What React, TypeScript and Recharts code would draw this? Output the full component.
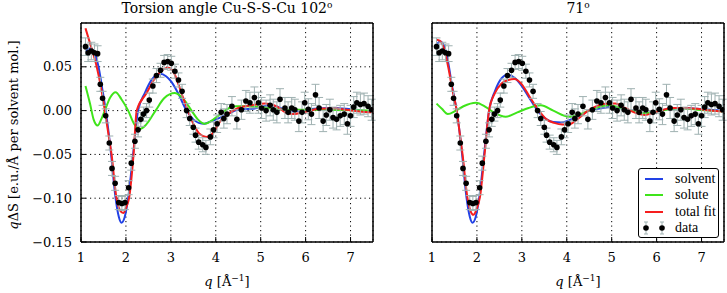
import {
  ComposedChart,
  Line,
  Scatter,
  ErrorBar,
  XAxis,
  YAxis,
  CartesianGrid,
} from "recharts";

const qTicks = [1, 2, 3, 4, 5, 6, 7];
const sTicks = [-0.15, -0.1, -0.05, 0, 0.05];

// measured q dS with error, shared by both panels: [q, value, err]
const measured = [
  [1.1, 0.073, 0.01], [1.16, 0.066, 0.01], [1.23, 0.068, 0.01], [1.3, 0.066, 0.01],
  [1.37, 0.065, 0.009], [1.43, 0.03, 0.008], [1.48, 0.014, 0.008], [1.55, -0.006, 0.008],
  [1.63, -0.037, 0.008], [1.69, -0.066, 0.008], [1.76, -0.083, 0.008], [1.84, -0.105, 0.008],
  [1.91, -0.106, 0.008], [1.98, -0.105, 0.008], [2.06, -0.088, 0.008], [2.12, -0.06, 0.008],
  [2.2, -0.035, 0.008], [2.27, -0.022, 0.008], [2.33, -0.01, 0.008], [2.39, -0.004, 0.008],
  [2.46, 0.0, 0.008], [2.52, 0.012, 0.008], [2.6, 0.028, 0.008], [2.68, 0.04, 0.008],
  [2.77, 0.046, 0.008], [2.85, 0.055, 0.008], [2.93, 0.056, 0.008], [3.01, 0.054, 0.008],
  [3.09, 0.045, 0.008], [3.17, 0.035, 0.008], [3.25, 0.022, 0.008], [3.35, 0.0, 0.008],
  [3.42, -0.009, 0.008], [3.5, -0.019, 0.008], [3.55, -0.028, 0.008], [3.62, -0.036, 0.008],
  [3.71, -0.039, 0.008], [3.78, -0.042, 0.008], [3.88, -0.03, 0.009], [3.95, -0.022, 0.009],
  [4.03, -0.015, 0.01], [4.12, -0.002, 0.01], [4.18, -0.009, 0.011], [4.25, -0.004, 0.011],
  [4.36, 0.005, 0.011], [4.47, -0.01, 0.011], [4.57, 0.001, 0.011], [4.67, 0.011, 0.012],
  [4.76, 0.009, 0.012], [4.86, 0.015, 0.012], [4.95, 0.009, 0.012], [5.02, 0.003, 0.012],
  [5.12, 0.0, 0.012], [5.21, 0.006, 0.012], [5.28, 0.001, 0.012], [5.36, -0.002, 0.012],
  [5.43, 0.013, 0.012], [5.54, 0.003, 0.012], [5.61, -0.002, 0.012], [5.69, 0.003, 0.012],
  [5.76, 0.001, 0.012], [5.85, -0.012, 0.012], [5.92, -0.002, 0.012], [5.98, 0.009, 0.012],
  [6.06, 0.0015, 0.012], [6.13, -0.004, 0.012], [6.22, 0.018, 0.012], [6.3, 0.003, 0.012],
  [6.39, -0.012, 0.012], [6.46, -0.005, 0.012], [6.54, 0.001, 0.012], [6.61, -0.008, 0.012],
  [6.69, -0.01, 0.012], [6.77, -0.006, 0.012], [6.86, -0.004, 0.012], [6.93, -0.015, 0.012],
  [7.0, -0.006, 0.012], [7.07, 0.004, 0.012], [7.14, 0.009, 0.012], [7.22, 0.007, 0.012],
  [7.3, 0.008, 0.012], [7.39, 0.005, 0.012], [7.47, 0.001, 0.012],
];

// left panel: torsion angle 102
const solvent102 = [
  [1.1, 0.067], [1.2, 0.071], [1.28, 0.068], [1.39, 0.05], [1.47, 0.026], [1.55, 0.0],
  [1.62, -0.027], [1.67, -0.05], [1.77, -0.1], [1.84, -0.121], [1.9, -0.128], [1.97, -0.122],
  [2.05, -0.1], [2.16, -0.05], [2.27, 0.0], [2.42, 0.02], [2.57, 0.035], [2.75, 0.042],
  [2.9, 0.039], [3.01, 0.033], [3.16, 0.02], [3.35, 0.0], [3.5, -0.01], [3.62, -0.014],
  [3.75, -0.015], [3.9, -0.012], [4.1, -0.008], [4.3, -0.003], [4.54, 0.0015], [4.8, 0.002],
  [5.0, 0.004], [5.21, 0.006], [5.4, 0.004], [5.65, -0.001], [5.9, 0.0], [6.2, 0.002],
  [6.54, 0.003], [6.9, 0.002], [7.2, 0.0], [7.5, -0.001],
];
const solute102 = [
  [1.1, 0.028], [1.2, 0.008], [1.28, -0.01], [1.37, -0.017], [1.45, -0.01], [1.53, 0.0],
  [1.65, 0.015], [1.77, 0.021], [1.9, 0.013], [2.05, 0.0], [2.18, -0.015], [2.31, -0.021],
  [2.45, -0.016], [2.66, 0.0], [2.85, 0.014], [3.09, 0.02], [3.3, 0.012], [3.46, 0.0],
  [3.6, -0.01], [3.75, -0.015], [3.95, -0.01], [4.1, -0.004], [4.3, 0.003], [4.45, 0.005],
  [4.7, 0.005], [5.0, 0.004], [5.3, 0.002], [5.6, 0.001], [6.0, 0.001], [6.5, 0.001],
  [7.0, 0.0005], [7.5, 0.0],
];
const total102 = [
  [1.1, 0.094], [1.2, 0.077], [1.35, 0.05], [1.45, 0.025], [1.53, 0.0], [1.62, -0.03],
  [1.68, -0.05], [1.79, -0.1], [1.87, -0.114], [1.94, -0.117], [2.01, -0.11], [2.07, -0.1],
  [2.17, -0.05], [2.24, 0.0], [2.46, 0.02], [2.62, 0.035], [2.78, 0.045], [2.94, 0.049],
  [3.05, 0.045], [3.17, 0.03], [3.27, 0.015], [3.38, 0.0], [3.5, -0.015], [3.63, -0.026],
  [3.79, -0.03], [3.95, -0.025], [4.1, -0.012], [4.27, -0.004], [4.5, 0.003], [4.8, 0.006],
  [5.1, 0.008], [5.35, 0.005], [5.55, -0.002], [5.7, -0.004], [5.95, -0.002], [6.3, 0.002],
  [6.6, 0.0026], [6.9, 0.001], [7.2, -0.001], [7.5, -0.002],
];

// right panel: torsion angle 71
const solvent71 = [
  [1.1, 0.075], [1.18, 0.079], [1.26, 0.075], [1.36, 0.055], [1.45, 0.027], [1.55, 0.0],
  [1.62, -0.027], [1.67, -0.05], [1.77, -0.1], [1.84, -0.121], [1.9, -0.128], [1.97, -0.122],
  [2.05, -0.1], [2.16, -0.05], [2.27, 0.0], [2.4, 0.022], [2.55, 0.037], [2.68, 0.041],
  [2.85, 0.037], [3.0, 0.028], [3.16, 0.015], [3.35, 0.0], [3.55, -0.01], [3.7, -0.013],
  [3.87, -0.0135], [4.05, -0.011], [4.27, -0.006], [4.5, 0.0], [4.8, 0.003], [4.95, 0.004],
  [5.2, 0.0026], [5.45, 0.0], [5.74, -0.003], [6.0, -0.001], [6.3, 0.002], [6.6, 0.003],
  [6.9, 0.002], [7.2, 0.001], [7.5, 0.0],
];
const solute71 = [
  [1.1, 0.008], [1.22, 0.002], [1.35, -0.004], [1.53, 0.0], [1.7, 0.005], [1.98, 0.009],
  [2.2, 0.004], [2.4, -0.003], [2.64, -0.007], [2.9, -0.002], [3.15, 0.003], [3.42, 0.006],
  [3.7, 0.0], [4.05, -0.007], [4.3, -0.004], [4.57, 0.0015], [4.93, 0.006], [5.3, 0.0015],
  [5.74, -0.003], [6.1, 0.0], [6.5, 0.0026], [6.9, 0.001], [7.5, -0.001],
];
const total71 = [
  [1.1, 0.081], [1.17, 0.08], [1.26, 0.072], [1.36, 0.05], [1.45, 0.025], [1.55, 0.0],
  [1.62, -0.027], [1.68, -0.05], [1.79, -0.1], [1.86, -0.115], [1.92, -0.119], [1.99, -0.113],
  [2.07, -0.098], [2.17, -0.05], [2.27, 0.0], [2.4, 0.02], [2.55, 0.031], [2.7, 0.035],
  [2.83, 0.036], [3.0, 0.03], [3.17, 0.016], [3.38, 0.0], [3.55, -0.01], [3.72, -0.014],
  [3.9, -0.016], [4.05, -0.016], [4.13, -0.014], [4.28, -0.008], [4.48, 0.0], [4.7, 0.006],
  [4.93, 0.008], [5.08, 0.008], [5.3, 0.003], [5.5, -0.002], [5.74, -0.005], [5.95, -0.002],
  [6.15, 0.001], [6.33, 0.003], [6.6, 0.003], [6.9, 0.002], [7.2, 0.0], [7.5, -0.001],
];

const legendRows = ["solvent", "solute", "total fit", "data"];

const BLUE = "#2242e6";
const GREEN = "#3fe41a";
const RED = "#f61e1e";
const ERR = "#9fb1b1";
const FONT = "'DejaVu Serif', serif";
const LEGEND_FONT = "'Liberation Serif', serif";

const toLine = (arr: number[][]) => arr.map(([q, v]) => ({ q, v }));
const points = measured.map(([q, v, err]) => ({ q, v, err }));

const fmt = (v: number) => v.toFixed(2).replace("-", "\u2212");

const Dot = (props: any) => <circle cx={props.cx} cy={props.cy} r={2.8} fill="#000" />;

const LegendBox = () => {
  const colors = [BLUE, GREEN, RED];
  return (
    <div
      style={{
        position: "absolute",
        left: 638,
        top: 168,
        width: 81,
        height: 70,
        border: "1.5px solid #000",
        borderRadius: 3,
        background: "#fff",
        boxSizing: "border-box",
        fontFamily: LEGEND_FONT,
        fontSize: 14,
      }}
    >
      {legendRows.map((label, i) => (
        <div key={label} style={{ position: "absolute", left: 0, top: 1.5 + i * 16.5, height: 16, width: 78 }}>
          {i < 3 ? (
            <div style={{ position: "absolute", left: 6, top: 7, width: 18, height: 2, background: colors[i] }} />
          ) : (
            <svg width={30} height={16} style={{ position: "absolute", left: 0, top: 0 }}>
              {[7, 23].map((x) => (
                <g key={x}>
                  <line x1={x} x2={x} y1={2} y2={14} stroke={ERR} />
                  <line x1={x - 2} x2={x + 2} y1={2} y2={2} stroke={ERR} />
                  <line x1={x - 2} x2={x + 2} y1={14} y2={14} stroke={ERR} />
                  <circle cx={x} cy={8} r={2.8} fill="#000" />
                </g>
              ))}
            </svg>
          )}
          <span style={{ position: "absolute", left: 36, top: -1, whiteSpace: "nowrap", lineHeight: "17px" }}>
            {label}
          </span>
        </div>
      ))}
    </div>
  );
};

type PanelProps = {
  width: number;
  margin: { top: number; right: number; bottom: number; left: number };
  solvent: number[][];
  solute: number[][];
  total: number[][];
  labels: boolean;
};

const Panel = ({ width, margin, solvent, solute, total, labels }: PanelProps) => (
  <ComposedChart width={width} height={293} margin={margin}>
    <CartesianGrid stroke="#000" strokeWidth={1} strokeDasharray="1.2 3.3" />
    <XAxis
      xAxisId={0}
      type="number"
      dataKey="q"
      domain={[1, 7.5]}
      ticks={qTicks}
      allowDataOverflow
      height={30}
      tickSize={-5}
      tickMargin={16}
      axisLine={{ stroke: "#000", strokeWidth: 1.5 }}
      tickLine={{ stroke: "#000" }}
      tick={{ fill: "#000", fontSize: 13, fontFamily: FONT }}
    />
    <XAxis
      xAxisId="top"
      orientation="top"
      type="number"
      domain={[1, 7.5]}
      ticks={qTicks}
      allowDataOverflow
      height={1}
      tickSize={-5}
      tick={false}
      axisLine={{ stroke: "#000", strokeWidth: 1.5 }}
      tickLine={{ stroke: "#000" }}
    />
    <YAxis
      yAxisId={0}
      type="number"
      domain={[-0.15, 0.1]}
      ticks={sTicks}
      allowDataOverflow
      width={labels ? 60 : 1}
      tickSize={-5}
      tickMargin={14}
      tickFormatter={fmt}
      axisLine={{ stroke: "#000", strokeWidth: 1.5 }}
      tickLine={{ stroke: "#000" }}
      tick={labels ? { fill: "#000", fontSize: 13, fontFamily: FONT } : false}
    />
    <YAxis
      yAxisId="right"
      orientation="right"
      type="number"
      domain={[-0.15, 0.1]}
      ticks={sTicks}
      allowDataOverflow
      width={1}
      tickSize={-5}
      tick={false}
      axisLine={{ stroke: "#000", strokeWidth: 1.5 }}
      tickLine={{ stroke: "#000" }}
    />
    <Line data={toLine(solvent)} dataKey="v" type="monotone" stroke={BLUE} strokeWidth={2} dot={false} activeDot={false} isAnimationActive={false} />
    <Line data={toLine(solute)} dataKey="v" type="monotone" stroke={GREEN} strokeWidth={2} dot={false} activeDot={false} isAnimationActive={false} />
    <Line data={toLine(total)} dataKey="v" type="monotone" stroke={RED} strokeWidth={2} dot={false} activeDot={false} isAnimationActive={false} />
    <Scatter data={points} dataKey="v" shape={<Dot />} isAnimationActive={false}>
      <ErrorBar dataKey="err" direction="y" width={4} stroke={ERR} strokeWidth={1} isAnimationActive={false} />
    </Scatter>
  </ComposedChart>
);

const Labels = () => (
  <svg width={727} height={293} style={{ position: "absolute", left: 0, top: 0, pointerEvents: "none" }}>
    <g fontFamily={FONT} fontSize={14} fill="#000">
      <text x={227} y={13} textAnchor="middle">
        Torsion angle Cu-S-S-Cu 102<tspan fontSize={9} dy={-5}>o</tspan>
      </text>
      <text x={578} y={13} textAnchor="middle">
        71<tspan fontSize={9} dy={-5}>o</tspan>
      </text>
      {[227, 578].map((x) => (
        <text key={x} x={x} y={286} textAnchor="middle" fontSize={13}>
          <tspan fontStyle="italic">q</tspan> [Å<tspan fontSize={9} dy={-5}>{"\u22121"}</tspan>
          <tspan dy={5}>]</tspan>
        </text>
      ))}
      <text transform="translate(17.5,135) rotate(-90)" textAnchor="middle" fontSize={13}>
        <tspan fontStyle="italic">q</tspan>ΔS [e.u./Å per solvent mol.]
      </text>
    </g>
  </svg>
);

export default function App() {
  return (
    <div style={{ position: "absolute", left: 0, top: 0, width: 727, height: 293, background: "#fff" }}>
      <div style={{ position: "absolute", left: 0, top: 0 }}>
        <Panel
          width={380}
          margin={{ top: 22, right: 6, bottom: 21, left: 21 }}
          solvent={solvent102}
          solute={solute102}
          total={total102}
          labels
        />
      </div>
      <div style={{ position: "absolute", left: 380, top: 0 }}>
        <Panel
          width={347}
          margin={{ top: 22, right: 2, bottom: 21, left: 51 }}
          solvent={solvent71}
          solute={solute71}
          total={total71}
          labels={false}
        />
      </div>
      <LegendBox />
      <Labels />
    </div>
  );
}
